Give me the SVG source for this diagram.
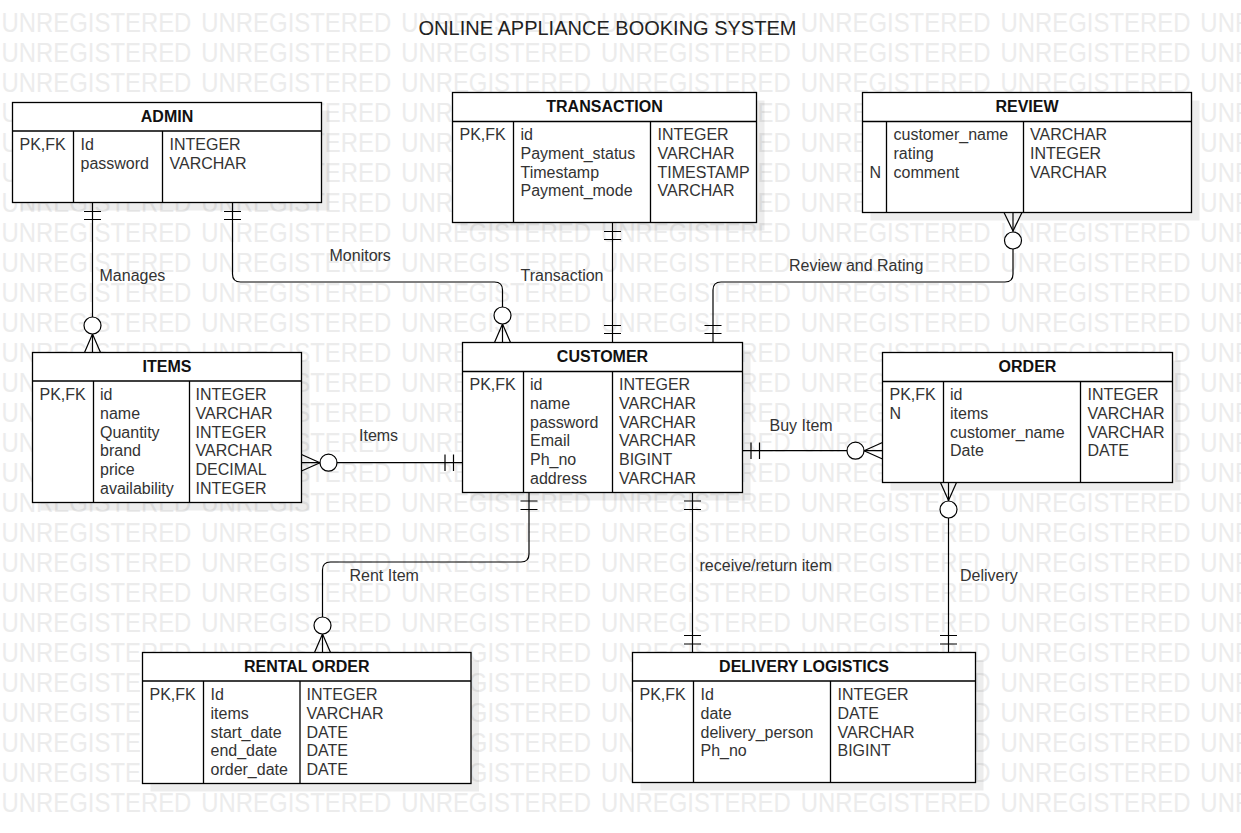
<svg xmlns="http://www.w3.org/2000/svg" width="1241" height="833" viewBox="0 0 1241 833">
<style>
.wm { font-family: "Liberation Sans", Arial, sans-serif; font-size: 28px; fill: #ececec; word-spacing: 3.9px; }
.box { fill: #fff; stroke: #000; stroke-width: 1.3; }
.sh { fill: #000; opacity: 0.07; }
.ln { stroke: #000; stroke-width: 1.3; fill: none; }
.hd { font-family: "Liberation Sans", Arial, sans-serif; font-size: 16px; font-weight: bold; fill: #111; text-anchor: middle; }
.at { font-family: "Liberation Sans", Arial, sans-serif; font-size: 16px; fill: #333; }
.lbl { font-family: "Liberation Sans", Arial, sans-serif; font-size: 16px; fill: #333; }
.title { font-family: "Liberation Sans", Arial, sans-serif; font-size: 20px; fill: #222; text-anchor: middle; }
.con { stroke: #000; stroke-width: 1.2; fill: none; }
.circ { stroke: #000; stroke-width: 1.2; fill: #fff; }
</style>
<rect width="1241" height="833" fill="#fff"/>
<g id="watermark" transform="scale(0.854 1)">
<text class="wm" x="1.8" y="31.7">UNREGISTERED UNREGISTERED UNREGISTERED UNREGISTERED UNREGISTERED UNREGISTERED UNREGISTERED</text>
<text class="wm" x="1.8" y="61.7">UNREGISTERED UNREGISTERED UNREGISTERED UNREGISTERED UNREGISTERED UNREGISTERED UNREGISTERED</text>
<text class="wm" x="1.8" y="91.7">UNREGISTERED UNREGISTERED UNREGISTERED UNREGISTERED UNREGISTERED UNREGISTERED UNREGISTERED</text>
<text class="wm" x="1.8" y="121.7">UNREGISTERED UNREGISTERED UNREGISTERED UNREGISTERED UNREGISTERED UNREGISTERED UNREGISTERED</text>
<text class="wm" x="1.8" y="151.7">UNREGISTERED UNREGISTERED UNREGISTERED UNREGISTERED UNREGISTERED UNREGISTERED UNREGISTERED</text>
<text class="wm" x="1.8" y="181.7">UNREGISTERED UNREGISTERED UNREGISTERED UNREGISTERED UNREGISTERED UNREGISTERED UNREGISTERED</text>
<text class="wm" x="1.8" y="211.7">UNREGISTERED UNREGISTERED UNREGISTERED UNREGISTERED UNREGISTERED UNREGISTERED UNREGISTERED</text>
<text class="wm" x="1.8" y="241.7">UNREGISTERED UNREGISTERED UNREGISTERED UNREGISTERED UNREGISTERED UNREGISTERED UNREGISTERED</text>
<text class="wm" x="1.8" y="271.7">UNREGISTERED UNREGISTERED UNREGISTERED UNREGISTERED UNREGISTERED UNREGISTERED UNREGISTERED</text>
<text class="wm" x="1.8" y="301.7">UNREGISTERED UNREGISTERED UNREGISTERED UNREGISTERED UNREGISTERED UNREGISTERED UNREGISTERED</text>
<text class="wm" x="1.8" y="331.7">UNREGISTERED UNREGISTERED UNREGISTERED UNREGISTERED UNREGISTERED UNREGISTERED UNREGISTERED</text>
<text class="wm" x="1.8" y="361.7">UNREGISTERED UNREGISTERED UNREGISTERED UNREGISTERED UNREGISTERED UNREGISTERED UNREGISTERED</text>
<text class="wm" x="1.8" y="391.7">UNREGISTERED UNREGISTERED UNREGISTERED UNREGISTERED UNREGISTERED UNREGISTERED UNREGISTERED</text>
<text class="wm" x="1.8" y="421.7">UNREGISTERED UNREGISTERED UNREGISTERED UNREGISTERED UNREGISTERED UNREGISTERED UNREGISTERED</text>
<text class="wm" x="1.8" y="451.7">UNREGISTERED UNREGISTERED UNREGISTERED UNREGISTERED UNREGISTERED UNREGISTERED UNREGISTERED</text>
<text class="wm" x="1.8" y="481.7">UNREGISTERED UNREGISTERED UNREGISTERED UNREGISTERED UNREGISTERED UNREGISTERED UNREGISTERED</text>
<text class="wm" x="1.8" y="511.7">UNREGISTERED UNREGISTERED UNREGISTERED UNREGISTERED UNREGISTERED UNREGISTERED UNREGISTERED</text>
<text class="wm" x="1.8" y="541.7">UNREGISTERED UNREGISTERED UNREGISTERED UNREGISTERED UNREGISTERED UNREGISTERED UNREGISTERED</text>
<text class="wm" x="1.8" y="571.7">UNREGISTERED UNREGISTERED UNREGISTERED UNREGISTERED UNREGISTERED UNREGISTERED UNREGISTERED</text>
<text class="wm" x="1.8" y="601.7">UNREGISTERED UNREGISTERED UNREGISTERED UNREGISTERED UNREGISTERED UNREGISTERED UNREGISTERED</text>
<text class="wm" x="1.8" y="631.7">UNREGISTERED UNREGISTERED UNREGISTERED UNREGISTERED UNREGISTERED UNREGISTERED UNREGISTERED</text>
<text class="wm" x="1.8" y="661.7">UNREGISTERED UNREGISTERED UNREGISTERED UNREGISTERED UNREGISTERED UNREGISTERED UNREGISTERED</text>
<text class="wm" x="1.8" y="691.7">UNREGISTERED UNREGISTERED UNREGISTERED UNREGISTERED UNREGISTERED UNREGISTERED UNREGISTERED</text>
<text class="wm" x="1.8" y="721.7">UNREGISTERED UNREGISTERED UNREGISTERED UNREGISTERED UNREGISTERED UNREGISTERED UNREGISTERED</text>
<text class="wm" x="1.8" y="751.7">UNREGISTERED UNREGISTERED UNREGISTERED UNREGISTERED UNREGISTERED UNREGISTERED UNREGISTERED</text>
<text class="wm" x="1.8" y="781.7">UNREGISTERED UNREGISTERED UNREGISTERED UNREGISTERED UNREGISTERED UNREGISTERED UNREGISTERED</text>
<text class="wm" x="1.8" y="811.7">UNREGISTERED UNREGISTERED UNREGISTERED UNREGISTERED UNREGISTERED UNREGISTERED UNREGISTERED</text>
</g>

<text class="title" x="607.5" y="35">ONLINE APPLIANCE BOOKING SYSTEM</text>

<g id="connectors">
  <!-- Manages: ADMIN -> ITEMS -->
  <path class="con" d="M92.5 202.5 V352.5"/>
  <path class="con" d="M84 211.5 H101 M84 219.5 H101"/>
  <path class="con" d="M92.5 334 L84.5 352.5 M92.5 334 L100.5 352.5"/>
  <circle class="circ" cx="92.5" cy="325.5" r="8.5"/>
  <!-- Monitors: ADMIN -> CUSTOMER -->
  <path class="con" d="M232.5 202.5 V274 Q232.5 282 240.5 282 H494.5 Q502.5 282 502.5 290 V342.5"/>
  <path class="con" d="M224 211.5 H241 M224 219.5 H241"/>
  <path class="con" d="M502.5 324 L494.5 342.5 M502.5 324 L510.5 342.5"/>
  <circle class="circ" cx="502.5" cy="315.5" r="8.5"/>
  <!-- Transaction: TRANSACTION -> CUSTOMER -->
  <path class="con" d="M612.5 222.5 V342.5"/>
  <path class="con" d="M604 231.5 H621 M604 239.5 H621 M604 325.5 H621 M604 333.5 H621"/>
  <!-- Review and Rating: CUSTOMER -> REVIEW -->
  <path class="con" d="M713 342.5 V290 Q713 282 721 282 H1005 Q1013 282 1013 274 V212.5"/>
  <path class="con" d="M704.5 325.5 H721.5 M704.5 333.5 H721.5"/>
  <path class="con" d="M1013 231 L1004 212.5 M1013 231 L1022 212.5"/>
  <circle class="circ" cx="1013" cy="240.5" r="8.5"/>
  <!-- Items: CUSTOMER -> ITEMS -->
  <path class="con" d="M301.5 462.7 H462.5"/>
  <path class="con" d="M445 454.5 V471 M453.5 454.5 V471"/>
  <path class="con" d="M320 462.7 L301.5 454.5 M320 462.7 L301.5 471"/>
  <circle class="circ" cx="328.5" cy="462.7" r="8.5"/>
  <!-- Buy Item: CUSTOMER -> ORDER -->
  <path class="con" d="M742.5 450.7 H882.5"/>
  <path class="con" d="M751 442.5 V459 M759.5 442.5 V459"/>
  <path class="con" d="M864 450.7 L882.5 442.5 M864 450.7 L882.5 459"/>
  <circle class="circ" cx="855.5" cy="450.7" r="8.5"/>
  <!-- Rent Item: CUSTOMER -> RENTAL ORDER -->
  <path class="con" d="M529 492.5 V554 Q529 562 521 562 H330.5 Q322.5 562 322.5 570 V652.5"/>
  <path class="con" d="M520.5 501 H537.5 M520.5 509.5 H537.5"/>
  <path class="con" d="M322.5 634 L314.5 652.5 M322.5 634 L330.5 652.5"/>
  <circle class="circ" cx="322.5" cy="625.5" r="8.5"/>
  <!-- receive/return item: CUSTOMER -> DELIVERY LOGISTICS -->
  <path class="con" d="M692.5 492.5 V652.5"/>
  <path class="con" d="M684 501 H701 M684 509.5 H701 M684 635.5 H701 M684 644 H701"/>
  <!-- Delivery: ORDER -> DELIVERY LOGISTICS -->
  <path class="con" d="M948.5 482.5 V652.5"/>
  <path class="con" d="M948.5 500.5 L940.5 482.5 M948.5 500.5 L956.5 482.5"/>
  <circle class="circ" cx="948.5" cy="509.5" r="8.5"/>
  <path class="con" d="M940 635.5 H957 M940 644 H957"/>
  <!-- labels -->
  <text class="lbl" x="99.5" y="281">Manages</text>
  <text class="lbl" x="329.5" y="261">Monitors</text>
  <text class="lbl" x="520.5" y="281">Transaction</text>
  <text class="lbl" x="789" y="271">Review and Rating</text>
  <text class="lbl" x="359" y="441">Items</text>
  <text class="lbl" x="769.5" y="431">Buy Item</text>
  <text class="lbl" x="349.5" y="581">Rent Item</text>
  <text class="lbl" x="699.5" y="571">receive/return item</text>
  <text class="lbl" x="960" y="581">Delivery</text>
</g>

<g id="admin">
  <rect class="sh" x="20.5" y="110.5" width="309" height="100"/>
  <rect class="box" x="12.5" y="102.5" width="309" height="100"/>
  <path class="ln" d="M12.5 131 H321.5 M73.5 131 V202.5 M162.5 131 V202.5"/>
  <text class="hd" x="167" y="121.7">ADMIN</text>
  <text class="at" x="19.5" y="150">PK,FK</text>
  <text class="at" x="80.5" y="150">Id</text>
  <text class="at" x="80.5" y="168.8">password</text>
  <text class="at" x="169.5" y="150">INTEGER</text>
  <text class="at" x="169.5" y="168.8">VARCHAR</text>
</g>

<g id="transaction">
  <rect class="sh" x="460.5" y="100.5" width="304" height="130"/>
  <rect class="box" x="452.5" y="92.5" width="304" height="130"/>
  <path class="ln" d="M452.5 121.5 H756.5 M513.5 121.5 V222.5 M650.5 121.5 V222.5"/>
  <text class="hd" x="604.5" y="111.5">TRANSACTION</text>
  <text class="at" x="459.5" y="140">PK,FK</text>
  <text class="at" x="520.5" y="140">id</text>
  <text class="at" x="520.5" y="158.8">Payment_status</text>
  <text class="at" x="520.5" y="177.6">Timestamp</text>
  <text class="at" x="520.5" y="196.4">Payment_mode</text>
  <text class="at" x="657.5" y="140">INTEGER</text>
  <text class="at" x="657.5" y="158.8">VARCHAR</text>
  <text class="at" x="657.5" y="177.6">TIMESTAMP</text>
  <text class="at" x="657.5" y="196.4">VARCHAR</text>
</g>

<g id="review">
  <rect class="sh" x="870.5" y="100.5" width="329" height="120"/>
  <rect class="box" x="862.5" y="92.5" width="329" height="120"/>
  <path class="ln" d="M862.5 121.5 H1191.5 M886.5 121.5 V212.5 M1023.5 121.5 V212.5"/>
  <text class="hd" x="1027" y="111.5">REVIEW</text>
  <text class="at" x="869.5" y="177.6">N</text>
  <text class="at" x="893.5" y="140">customer_name</text>
  <text class="at" x="893.5" y="158.8">rating</text>
  <text class="at" x="893.5" y="177.6">comment</text>
  <text class="at" x="1030" y="140">VARCHAR</text>
  <text class="at" x="1030" y="158.8">INTEGER</text>
  <text class="at" x="1030" y="177.6">VARCHAR</text>
</g>

<g id="items">
  <rect class="sh" x="40.5" y="360.5" width="269" height="150"/>
  <rect class="box" x="32.5" y="352.5" width="269" height="150"/>
  <path class="ln" d="M32.5 381 H301.5 M93.5 381 V502.5 M189.5 381 V502.5"/>
  <text class="hd" x="167" y="371.7">ITEMS</text>
  <text class="at" x="39.5" y="400">PK,FK</text>
  <text class="at" x="100" y="400">id</text>
  <text class="at" x="100" y="418.8">name</text>
  <text class="at" x="100" y="437.6">Quantity</text>
  <text class="at" x="100" y="456.4">brand</text>
  <text class="at" x="100" y="475.2">price</text>
  <text class="at" x="100" y="494">availability</text>
  <text class="at" x="195.5" y="400">INTEGER</text>
  <text class="at" x="195.5" y="418.8">VARCHAR</text>
  <text class="at" x="195.5" y="437.6">INTEGER</text>
  <text class="at" x="195.5" y="456.4">VARCHAR</text>
  <text class="at" x="195.5" y="475.2">DECIMAL</text>
  <text class="at" x="195.5" y="494">INTEGER</text>
</g>

<g id="customer">
  <rect class="sh" x="470.5" y="350.5" width="280" height="150"/>
  <rect class="box" x="462.5" y="342.5" width="280" height="150"/>
  <path class="ln" d="M462.5 371.5 H742.5 M523.5 371.5 V492.5 M612.5 371.5 V492.5"/>
  <text class="hd" x="602.5" y="361.5">CUSTOMER</text>
  <text class="at" x="469.5" y="390">PK,FK</text>
  <text class="at" x="530" y="390">id</text>
  <text class="at" x="530" y="408.8">name</text>
  <text class="at" x="530" y="427.6">password</text>
  <text class="at" x="530" y="446.4">Email</text>
  <text class="at" x="530" y="465.2">Ph_no</text>
  <text class="at" x="530" y="484">address</text>
  <text class="at" x="619" y="390">INTEGER</text>
  <text class="at" x="619" y="408.8">VARCHAR</text>
  <text class="at" x="619" y="427.6">VARCHAR</text>
  <text class="at" x="619" y="446.4">VARCHAR</text>
  <text class="at" x="619" y="465.2">BIGINT</text>
  <text class="at" x="619" y="484">VARCHAR</text>
</g>

<g id="order">
  <rect class="sh" x="890.5" y="360.5" width="290" height="130"/>
  <rect class="box" x="882.5" y="352.5" width="290" height="130"/>
  <path class="ln" d="M882.5 381.5 H1172.5 M943.5 381.5 V482.5 M1080.5 381.5 V482.5"/>
  <text class="hd" x="1027.5" y="371.5">ORDER</text>
  <text class="at" x="889.5" y="400">PK,FK</text>
  <text class="at" x="889.5" y="418.8">N</text>
  <text class="at" x="950" y="400">id</text>
  <text class="at" x="950" y="418.8">items</text>
  <text class="at" x="950" y="437.6">customer_name</text>
  <text class="at" x="950" y="456.4">Date</text>
  <text class="at" x="1087.5" y="400">INTEGER</text>
  <text class="at" x="1087.5" y="418.8">VARCHAR</text>
  <text class="at" x="1087.5" y="437.6">VARCHAR</text>
  <text class="at" x="1087.5" y="456.4">DATE</text>
</g>

<g id="rental-order">
  <rect class="sh" x="150.5" y="660.5" width="328.5" height="131"/>
  <rect class="box" x="142.5" y="652.5" width="328.5" height="131"/>
  <path class="ln" d="M142.5 681 H471 M203.5 681 V783.5 M300 681 V783.5"/>
  <text class="hd" x="306.75" y="671.5">RENTAL ORDER</text>
  <text class="at" x="149.5" y="700">PK,FK</text>
  <text class="at" x="210.5" y="700">Id</text>
  <text class="at" x="210.5" y="718.8">items</text>
  <text class="at" x="210.5" y="737.6">start_date</text>
  <text class="at" x="210.5" y="756.4">end_date</text>
  <text class="at" x="210.5" y="775.2">order_date</text>
  <text class="at" x="306.5" y="700">INTEGER</text>
  <text class="at" x="306.5" y="718.8">VARCHAR</text>
  <text class="at" x="306.5" y="737.6">DATE</text>
  <text class="at" x="306.5" y="756.4">DATE</text>
  <text class="at" x="306.5" y="775.2">DATE</text>
</g>

<g id="delivery-logistics">
  <rect class="sh" x="640.5" y="660.5" width="343" height="130"/>
  <rect class="box" x="632.5" y="652.5" width="343" height="130"/>
  <path class="ln" d="M632.5 681 H975.5 M693.5 681 V782.5 M830.5 681 V782.5"/>
  <text class="hd" x="804" y="671.5">DELIVERY LOGISTICS</text>
  <text class="at" x="639.5" y="700">PK,FK</text>
  <text class="at" x="700.5" y="700">Id</text>
  <text class="at" x="700.5" y="718.8">date</text>
  <text class="at" x="700.5" y="737.6">delivery_person</text>
  <text class="at" x="700.5" y="756.4">Ph_no</text>
  <text class="at" x="837.5" y="700">INTEGER</text>
  <text class="at" x="837.5" y="718.8">DATE</text>
  <text class="at" x="837.5" y="737.6">VARCHAR</text>
  <text class="at" x="837.5" y="756.4">BIGINT</text>
</g>
</svg>
